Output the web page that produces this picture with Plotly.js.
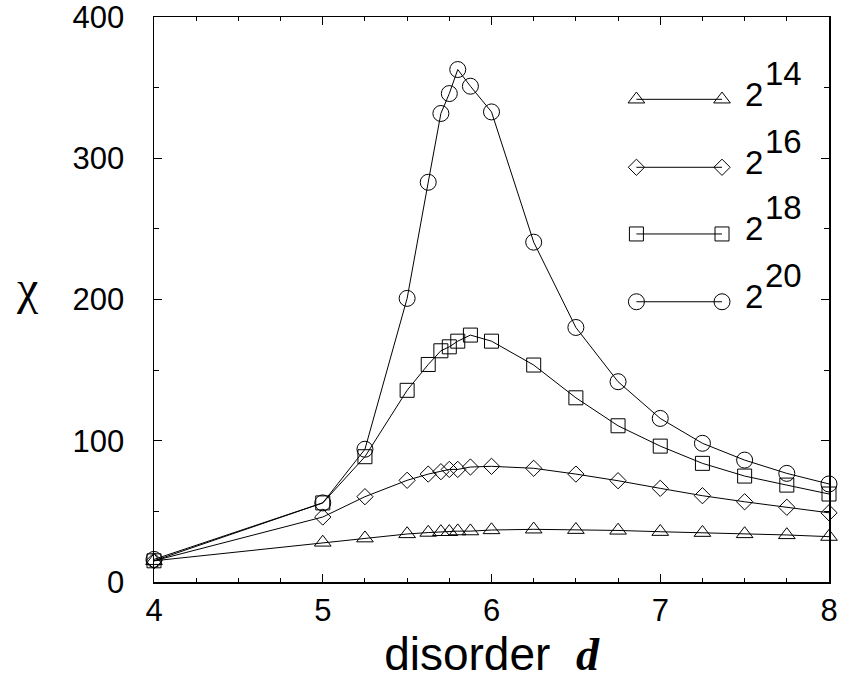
<!DOCTYPE html>
<html>
<head>
<meta charset="utf-8">
<script src="https://cdn.plot.ly/plotly-3.0.1.min.js"></script>
<style>html,body{margin:0;padding:0;background:#fff;}#chart{width:843px;height:683px;}</style>
</head>
<body>
<div id="chart"></div>
<script>
// disorder values (shared by all system sizes)
const disorder = [4, 5, 5.25, 5.5, 5.625, 5.7, 5.75, 5.8, 5.875, 6, 6.25, 6.5, 6.75, 7, 7.25, 7.5, 7.75, 8];
// susceptibility chi for each system size
const chi_2_14 = [15, 28, 31, 34, 35, 35.5, 35.5, 36, 36, 36.8, 37.3, 37, 36.5, 35.6, 34.9, 34, 33.3, 32.1];
const chi_2_16 = [15, 46, 60.4, 72, 76.4, 78.1, 79.7, 79.7, 81.4, 81.9, 80.5, 76.4, 71.7, 66.3, 61.1, 56.8, 52.9, 49];
const chi_2_18 = [15, 56, 88.7, 135.7, 154, 163.7, 166.5, 170.5, 174.8, 170.5, 153.6, 130.4, 110.6, 96.2, 84, 75, 68.6, 62.3];
const chi_2_20 = [16, 56, 94, 200.8, 283, 331.7, 345.8, 362.8, 351, 332.8, 240.6, 180.2, 141.8, 115.8, 98.2, 86.3, 76.9, 69.4];

const seriesExponents = ["14", "16", "18", "20"];
const seriesSymbols = ["triangle-up-open", "diamond-open", "square-open", "circle-open"];
const seriesSizes = [14.5, 12.5, 14, 16];
const seriesValues = [chi_2_14, chi_2_16, chi_2_18, chi_2_20];

const traces = [];
seriesValues.forEach((vals, i) => {
  traces.push({
    x: disorder, y: vals, type: 'scatter', mode: 'lines+markers',
    name: '2^' + seriesExponents[i], showlegend: false,
    line: {color: '#000', width: 1},
    marker: {symbol: seriesSymbols[i], size: seriesSizes[i], color: '#000', line: {color: '#000', width: 1}},
    cliponaxis: false
  });
});

// hand-made legend (line with a marker at both ends), on an overlay axis
const legendX = [0.7147, 0.8415];
const legendY = [0.8543, 0.734, 0.616, 0.496];
const annotations = [];
seriesValues.forEach((vals, i) => {
  traces.push({
    x: legendX, y: [legendY[i], legendY[i]], xaxis: 'x2', yaxis: 'y2',
    type: 'scatter', mode: 'lines+markers', showlegend: false, hoverinfo: 'skip',
    line: {color: '#000', width: 1},
    marker: {symbol: seriesSymbols[i], size: seriesSizes[i], color: '#000', line: {color: '#000', width: 1}},
    cliponaxis: false
  });
  annotations.push({
    xref: 'paper', yref: 'paper', x: 0.872, y: legendY[i], yshift: 5, xanchor: 'left', yanchor: 'middle',
    text: '2', showarrow: false, font: {family: 'Liberation Sans, Arial, sans-serif', size: 33, color: '#000'}
  });
  annotations.push({
    xref: 'paper', yref: 'paper', x: 0.9018, y: legendY[i], yshift: 26, xanchor: 'left', yanchor: 'middle',
    text: seriesExponents[i], showarrow: false, font: {family: 'Liberation Sans, Arial, sans-serif', size: 33, color: '#000'}
  });
});

annotations.push({
  xref: 'paper', yref: 'paper', x: -0.188, y: 0.515, yshift: 4, xanchor: 'center', yanchor: 'middle',
  text: 'χ', showarrow: false, font: {family: 'Liberation Serif, serif', size: 48, color: '#000'}
});

const layout = {
  width: 843, height: 683,
  margin: {l: 154, r: 14, t: 17, b: 101},
  paper_bgcolor: '#fff', plot_bgcolor: '#fff',
  showlegend: false,
  font: {family: 'Liberation Sans, Arial, sans-serif', color: '#000'},
  xaxis: {
    range: [4, 8], tickvals: [4, 5, 6, 7, 8], ticktext: ['4', '5', '6', '7', '8'],
    ticks: 'inside', ticklen: 8, tickwidth: 1, tickcolor: '#000',
    minor: {dtick: 0.25, ticks: 'inside', ticklen: 4, tickwidth: 1, tickcolor: '#000'},
    showline: true, linecolor: '#000', linewidth: 1.5, mirror: 'ticks',
    showgrid: false, zeroline: false,
    tickfont: {size: 31, color: '#000'},
    ticklabeloverflow: 'allow',
    title: {text: 'disorder  <span style="font-family:Liberation Serif"><b><i>d</i></b></span>', font: {size: 46, color: '#000'}, standoff: 2}
  },
  yaxis: {
    range: [0, 400], tickvals: [0, 100, 200, 300, 400],
    ticks: 'inside', ticklen: 8, tickwidth: 1, tickcolor: '#000',
    minor: {dtick: 50, ticks: 'inside', ticklen: 5, tickwidth: 1, tickcolor: '#000'},
    showline: true, linecolor: '#000', linewidth: 1.5, mirror: 'ticks',
    showgrid: false, zeroline: false,
    tickfont: {size: 31, color: '#000'},
    ticklabeloverflow: 'allow',
    ticklabelstandoff: 22
  },
  xaxis2: {overlaying: 'x', range: [0, 1], visible: false, fixedrange: true},
  yaxis2: {overlaying: 'y', range: [0, 1], visible: false, fixedrange: true},
  annotations: annotations
};

Plotly.newPlot('chart', traces, layout, {displayModeBar: false, staticPlot: true});
</script>
</body>
</html>
